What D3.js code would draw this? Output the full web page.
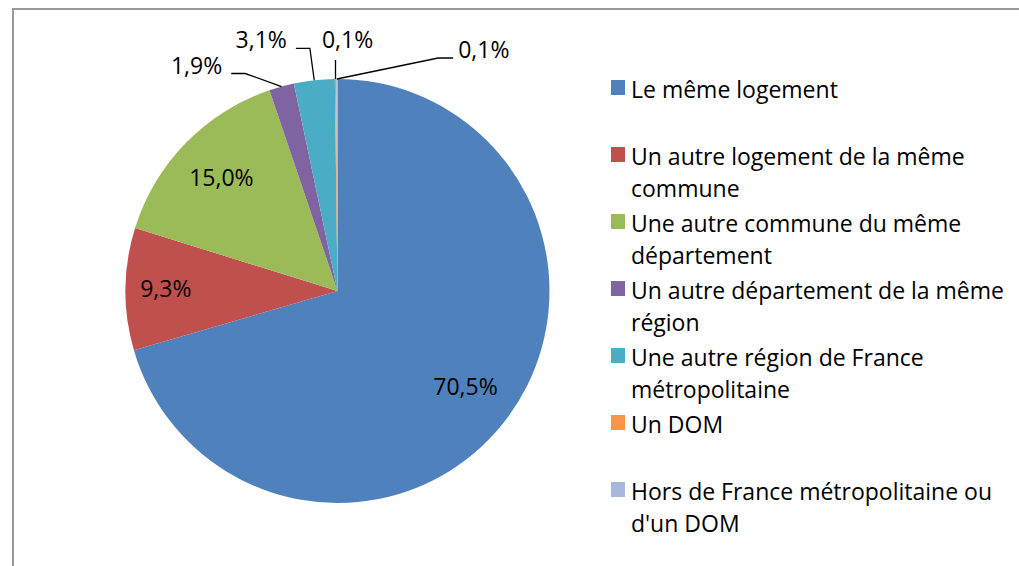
<!DOCTYPE html>
<html>
<head>
<meta charset="utf-8">
<script src="https://cdn.jsdelivr.net/npm/d3@7"></script>
<style>
  html, body { margin: 0; padding: 0; background: #fff; }
  svg { display: block; }
  text { font-family: "Open Sans", sans-serif; fill: #000; }
</style>
</head>
<body>
<svg id="chart"></svg>
<script>
const categories = [
    'Le même logement',
    'Un autre logement de la même commune',
    'Une autre commune du même département',
    'Un autre département de la même région',
    'Une autre région de France métropolitaine',
    'Un DOM',
    "Hors de France métropolitaine ou d'un DOM"
]
const values = [70.5, 9.3, 15.0, 1.9, 3.1, 0.1, 0.1]
const colors = ['#4f81bd', '#c0504d', '#9bbb59', '#8064a2', '#4bacc6', '#f79646', '#a7b9da']

function pieChart(settings) {

    let chart = {}

    chart.settings = {
        selector: null,
        width: 1019,
        height: 566
    }
    for (var setting in settings) {
        chart.settings[setting] = settings[setting]
    }

    chart.cx = 337.5
    chart.cy = 291
    chart.radius = 212
    chart.fontSize = 23

    // inside labels: radius factor per slice (Excel "best fit" is a bit uneven)
    const insideRadius = {0: 0.755, 1: 0.81, 2: 0.765}
    // outside labels: text centre relative to the point on the rim
    const outside = {
        3: {dx: -85, dy: -21, leader: 'left'},
        4: {dx: -53, dy: -40, leader: 'left'},
        5: {dx: 12, dy: -39, leader: 'up'},
        6: {dx: 147, dy: -29, leader: 'right'}
    }

    const fr = d3.formatLocale({decimal: ',', thousands: ' ', grouping: [3], currency: ['', '€']})
    const fmt = v => fr.format('.1f')(v) + '%'

    chart.svg = d3.select(chart.settings.selector)
        .attr('width', chart.settings.width)
        .attr('height', chart.settings.height)

    // frame of the chart area
    chart.svg.append('rect')
        .attr('x', 13).attr('y', 9)
        .attr('width', chart.settings.width).attr('height', chart.settings.height)
        .attr('fill', 'none')
        .attr('stroke', '#999')
        .attr('stroke-width', 2)

    chart.g = chart.svg.append('g')
        .attr('transform', `translate(${chart.cx}, ${chart.cy})`)

    const pie = d3.pie().sort(null).value(d => d)
    const arcs = pie(values)
    const arc = d3.arc().innerRadius(0).outerRadius(chart.radius)

    chart.g.selectAll('path.slice').data(arcs)
        .enter().append('path')
        .classed('slice', true)
        .attr('d', arc)
        .attr('fill', (d, i) => colors[i])

    // labels inside the big slices
    const inside = arcs.filter((d, i) => insideRadius[i] !== undefined)
    chart.g.selectAll('text.inside').data(inside)
        .enter().append('text')
        .classed('inside', true)
        .attr('transform', d => {
            const r = chart.radius * insideRadius[d.index]
            const c = d3.arc().innerRadius(r).outerRadius(r).centroid(d)
            return `translate(${c[0]}, ${c[1]})`
        })
        .attr('text-anchor', 'middle')
        .attr('dy', '0.35em')
        .style('font-size', chart.fontSize + 'px')
        .text(d => fmt(d.data))

    // labels outside the thin slices, with leader lines
    const rim = d3.arc().innerRadius(chart.radius).outerRadius(chart.radius)
    const outer = arcs.filter((d, i) => outside[i] !== undefined)
    const og = chart.g.selectAll('g.outer').data(outer)
        .enter().append('g')
        .classed('outer', true)

    og.each(function(d) {
        const o = outside[d.index]
        const p = rim.centroid(d)
        const tx = p[0] + o.dx
        const ty = p[1] + o.dy
        const t = d3.select(this).append('text')
            .attr('x', tx).attr('y', ty)
            .attr('text-anchor', 'middle')
            .attr('dy', '0.35em')
            .style('font-size', chart.fontSize + 'px')
            .text(fmt(d.data))
        const w = t.node().getComputedTextLength()
        const bottom = ty + 8
        let pts
        if (o.leader === 'left') {
            pts = [[tx + w / 2 + 9, bottom], [tx + w / 2 + 23, bottom], p]
        } else if (o.leader === 'right') {
            pts = [p, [tx - w / 2 - 20, bottom], [tx - w / 2 - 5, bottom]]
        } else {
            pts = [[p[0], ty + 20], p]
        }
        d3.select(this).append('path')
            .attr('d', d3.line()(pts))
            .attr('fill', 'none')
            .attr('stroke', '#000')
            .attr('stroke-width', 1.3)
    })

    // legend
    const legend = chart.svg.append('g')
        .attr('transform', 'translate(611, 80)')
    const item = legend.selectAll('g.item').data(categories)
        .enter().append('g')
        .classed('item', true)
        .attr('transform', (d, i) => `translate(0, ${i * 67})`)
    item.append('rect')
        .attr('width', 14).attr('height', 15)
        .attr('fill', (d, i) => colors[i])
    item.append('text')
        .attr('x', 20)
        .attr('y', 18)
        .style('font-size', chart.fontSize + 'px')
        .each(function(d) { wrap(d3.select(this), d, 388, 32) })

    function wrap(text, str, width, lineHeight) {
        const words = str.split(' ')
        let line = []
        let tspan = text.append('tspan').attr('x', 20).attr('dy', 0)
        words.forEach(word => {
            line.push(word)
            tspan.text(line.join(' '))
            if (tspan.node().getComputedTextLength() > width && line.length > 1) {
                line.pop()
                tspan.text(line.join(' '))
                line = [word]
                tspan = text.append('tspan').attr('x', 20).attr('dy', lineHeight).text(word)
            }
        })
    }

    return chart
}

pieChart({selector: '#chart'})
</script>
</body>
</html>
